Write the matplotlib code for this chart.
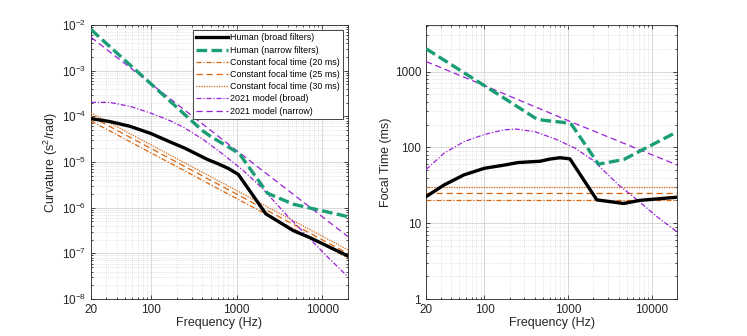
import numpy as np
import matplotlib
matplotlib.use('Agg')
import matplotlib.pyplot as plt
from matplotlib.ticker import FixedLocator, FixedFormatter, LogLocator, NullFormatter

plt.rcParams['font.family'] = ['Liberation Sans', 'DejaVu Sans']
plt.rcParams['mathtext.fontset'] = 'custom'
plt.rcParams['mathtext.rm'] = 'Liberation Sans'

# --- focal times (ms) --- #
freq_broad = [20, 33, 57, 100, 176, 250, 400, 460, 600, 800, 1050, 2200, 4600, 7200, 20000]
focal_broad = [22.4, 32, 43.4, 53, 58.6, 63, 65, 65.5, 70, 73, 70.5, 20.3, 18.2, 20, 22]

freq_narrow = [20, 100, 200, 400, 500, 1000, 1100, 2300, 4600, 20000]
focal_narrow = [2000, 650, 400, 245, 228, 210, 200, 60, 69, 160]

freq_model = [20, 33, 57, 100, 170, 240, 400, 700, 1200, 2000, 4000, 7000, 11500, 20000]
model_broad = [51, 84, 119, 148, 170, 174, 161, 129, 98, 67, 32, 19.5, 12.2, 7.7]

freq_model_n = [20, 100, 1000, 10000, 20000]
model_narrow = [1355, 652, 225, 80, 58.6]

const_freq = [20, 20000]
const_focal = [20, 25, 30]

labels = ['Human (broad filters)', 'Human (narrow filters)',
          'Constant focal time (20 ms)', 'Constant focal time (25 ms)',
          'Constant focal time (30 ms)', '2021 model (broad)', '2021 model (narrow)']

c_black = 'black'
c_green = '#1b9e77'
c_orange = '#d9650f'
c_purple = '#9a1fd8'


def curvature(f, t_ms):
    # curvature (s^2/rad) from focal time (ms)
    f = np.asarray(f, dtype=float)
    t = np.asarray(t_ms, dtype=float) * np.ones_like(f)
    return t / 1000.0 / (4 * np.pi * f)


def draw(ax, conv):
    ax.plot(freq_broad, conv(freq_broad, focal_broad), color=c_black, lw=2.4, label=labels[0], zorder=5)
    ax.plot(freq_narrow, conv(freq_narrow, focal_narrow), color=c_green, lw=2.4,
            dashes=(3.2, 1.3), label=labels[1], zorder=4)
    styles = [dict(dashes=(4, 1.5, 1, 1.5)), dict(dashes=(5, 3)), dict(dashes=(1, 1))]
    for i, t in enumerate(const_focal):
        ax.plot(const_freq, conv(const_freq, [t, t]), color=c_orange, lw=0.9,
                label=labels[2 + i], zorder=3, **styles[i])
    ax.plot(freq_model, conv(freq_model, model_broad), color=c_purple, lw=0.9,
            dashes=(4, 1.5, 1, 1.5), label=labels[5], zorder=3)
    ax.plot(freq_model_n, conv(freq_model_n, model_narrow), color=c_purple, lw=0.9,
            dashes=(5, 3), label=labels[6], zorder=3)


def style(ax):
    ax.set_xscale('log')
    ax.set_yscale('log')
    ax.set_xlim(20, 20000)
    ax.xaxis.set_major_locator(FixedLocator([20, 100, 1000, 10000]))
    ax.xaxis.set_major_formatter(FixedFormatter(['20', '100', '1000', '10000']))
    ax.xaxis.set_minor_locator(LogLocator(base=10, subs=np.arange(2, 10), numticks=20))
    ax.xaxis.set_minor_formatter(NullFormatter())
    ax.yaxis.set_minor_locator(LogLocator(base=10, subs=np.arange(2, 10), numticks=20))
    ax.yaxis.set_minor_formatter(NullFormatter())
    ax.grid(which='major', color='#d8d8d8', lw=0.7, zorder=0)
    ax.grid(which='minor', color='#cfcfcf', lw=0.5, ls=':', zorder=0)
    ax.set_axisbelow(True)
    ax.tick_params(which='both', direction='in', top=True, right=True, colors='#262626',
                   labelsize=8.5, width=0.6)
    ax.tick_params(which='major', length=3)
    ax.tick_params(which='minor', length=1.6)
    for s in ax.spines.values():
        s.set_color('#262626')
        s.set_linewidth(0.6)
    ax.set_xlabel('Frequency (Hz)', fontsize=9, color='#262626', labelpad=1)


fig = plt.figure(figsize=(7.47, 3.36), dpi=100)
ax1 = fig.add_axes([0.1218, 0.110, 0.344, 0.8155])
ax2 = fig.add_axes([0.5703, 0.110, 0.336, 0.8155])

draw(ax1, curvature)
draw(ax2, lambda f, t: np.asarray(t, dtype=float) * np.ones(len(f)))

style(ax1)
ax1.set_ylim(1e-8, 1e-2)
ax1.yaxis.set_major_locator(LogLocator(base=10, numticks=10))
ax1.set_ylabel('Curvature (s$^2$/rad)', fontsize=9, color='#262626', labelpad=1)

style(ax2)
ax2.set_ylim(1, 4100)
ax2.yaxis.set_major_locator(FixedLocator([1, 10, 100, 1000]))
ax2.yaxis.set_major_formatter(FixedFormatter(['1', '10', '100', '1000']))
ax2.set_ylabel('Focal Time (ms)', fontsize=9, color='#262626', labelpad=2)

leg = ax1.legend(loc='upper right', fontsize=6.4, handlelength=3.6, handletextpad=0.15,
                 labelspacing=0.36, borderpad=0.35, fancybox=False, framealpha=1,
                 borderaxespad=0.6)
leg.get_frame().set_edgecolor('#262626')
leg.get_frame().set_linewidth(0.6)

fig.savefig('out.png', dpi=100)
